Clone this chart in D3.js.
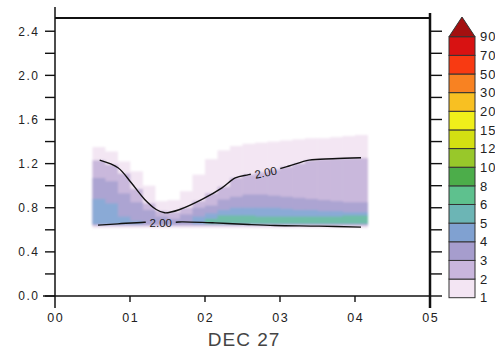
<!DOCTYPE html>
<html><head><meta charset="utf-8">
<script src="https://cdn.jsdelivr.net/npm/d3@7"></script>
<style>body{margin:0;background:#fff}svg{display:block}</style>
</head><body>
<svg id="c" width="495" height="352"></svg>
<script>
// ---------- data ----------
const colStart = [0.5,0.667,0.833,1.0,1.167,1.333,1.5,1.667,1.833,2.0,2.167,2.333,2.5,2.667,2.833,3.0,3.167,3.333,3.5,3.667,3.833,4.0];
const colWidth = 0.1667;
const fieldTop  = [1.35,1.31,1.22,1.13,1.00,0.86,0.87,0.95,1.10,1.24,1.32,1.36,1.38,1.39,1.40,1.41,1.42,1.43,1.43,1.44,1.45,1.46];
const level2Top = [1.23,1.19,1.11,0.97,0.84,0.77,0.76,0.80,0.86,0.93,0.99,1.07,1.10,1.12,1.145,1.17,1.20,1.23,1.24,1.245,1.25,1.25];
const level3Top = [1.07,1.04,0.93,0.85,0.78,0.72,0.70,0.74,0.80,0.82,0.875,0.90,0.92,0.92,0.91,0.90,0.89,0.88,0.87,0.86,0.85,0.85];
const level4Top = [0.88,0.84,0.72,0.68,0,0,0,0,0.72,0.75,0.78,0.80,0.80,0.80,0.80,0.79,0.78,0.78,0.77,0.77,0.76,0.76];
const level5Top = [0,0,0,0,0,0,0,0,0,0.70,0.73,0.73,0.73,0.72,0.72,0.72,0.72,0.72,0.72,0.72,0.73,0.73];
const levelBottom = [0.615,0.635,0.645,0.65,0.655];

const upperT = [0.596,0.84,1.017,1.196,1.35,1.463,1.663,1.96,2.227,2.404,2.583,2.947,3.12,3.387,3.703,4.08];
const upperV = [1.232,1.163,1.026,0.875,0.784,0.754,0.784,0.875,0.98,1.07,1.10,1.147,1.178,1.232,1.244,1.253];
const lowerT = [0.573,0.84,1.196,1.613,1.693,2.133,2.583,2.933,3.52,4.08];
const lowerV = [0.642,0.654,0.669,0.669,0.672,0.663,0.648,0.639,0.633,0.624];
const contourLabelT = [2.81,1.41];
const contourLabelV = [1.12,0.663];
const contourLabelText = ["2.00","2.00"];

const yTicks = [0,0.2,0.4,0.6,0.8,1.0,1.2,1.4,1.6,1.8,2.0,2.2,2.4];
const yLabels = ["0.0","0.4","0.8","1.2","1.6","2.0","2.4"];
const xTicks = [0,1,2,3,4,5];
const xLabels = ["00","01","02","03","04","05"];
const xTitle = "DEC 27";

const cbLabels = ["1","2","3","4","5","6","8","10","12","15","20","30","50","70","90"];
const cbColors = ["#f3e5f3","#c9b6dd","#a69dcd","#80a1d1","#6cb5b5","#5ec18e","#4cad4a","#98c82a","#d4e012","#f0ef1a","#f8c022","#f88222","#f83a12","#d81212"];
const cbOver = "#a31010";
const layerColors = ["#f3e6f3","#c9b8dc","#aca4d2","#8aaad6","#6fbda8"];

// ---------- drawing ----------
const svg = d3.select("#c");
const x = d3.scaleLinear().domain([0,5]).range([55,430]);
const y = d3.scaleLinear().domain([0,2.52]).range([296,18]);
const font = "'Liberation Sans', Arial, sans-serif";

const defs = svg.append("defs");
defs.append("filter").attr("id","soft").attr("x","-5%").attr("y","-5%").attr("width","110%").attr("height","110%")
  .append("feGaussianBlur").attr("stdDeviation",0.8);

// heatmap layers
const tops = [fieldTop, level2Top, level3Top, level4Top, level5Top];
const hm = svg.append("g").attr("filter","url(#soft)");
tops.forEach((arr, li) => {
  hm.append("g").selectAll("rect")
    .data(colStart.map((t,i)=>({t, top: arr[i]})).filter(d=>d.top>0))
    .join("rect")
    .attr("x", d=>x(d.t))
    .attr("width", d=>x(d.t+colWidth)-x(d.t)+0.4)
    .attr("y", d=>y(d.top))
    .attr("height", d=>Math.max(0, y(levelBottom[li])-y(d.top)))
    .attr("fill", layerColors[li]);
});

// contour lines with label gaps
const mask = defs.append("mask").attr("id","lblmask");
mask.append("rect").attr("x",0).attr("y",0).attr("width",495).attr("height",352).attr("fill","#fff");
const line = d3.line().x(d=>x(d[0])).y(d=>y(d[1])).curve(d3.curveCatmullRom.alpha(0.5));
const upper = upperT.map((t,i)=>[t,upperV[i]]);
const lower = lowerT.map((t,i)=>[t,lowerV[i]]);
const angles = [-11, 0];
contourLabelT.forEach((t,i)=>{
  const cx = x(t), cy = y(contourLabelV[i]);
  mask.append("rect").attr("x",-15).attr("y",-6).attr("width",30).attr("height",12)
    .attr("fill","#000").attr("transform",`translate(${cx},${cy}) rotate(${angles[i]})`);
});
const cg = svg.append("g").attr("mask","url(#lblmask)");
[upper, lower].forEach(pts=>{
  cg.append("path").attr("d", line(pts)).attr("fill","none").attr("stroke","#111").attr("stroke-width",1.4);
});
contourLabelT.forEach((t,i)=>{
  svg.append("text").attr("transform",`translate(${x(t)},${y(contourLabelV[i])}) rotate(${angles[i]})`)
    .attr("text-anchor","middle").attr("dy","0.36em")
    .attr("font-family",font).attr("font-size",11.5).attr("fill","#1a1a1a").text(contourLabelText[i]);
});

// frame
const fr = svg.append("g").attr("stroke","#111").attr("fill","none");
fr.append("line").attr("x1",x(0)).attr("x2",x(0)).attr("y1",7).attr("y2",308).attr("stroke-width",1.5);
fr.append("line").attr("x1",x(5)).attr("x2",x(5)).attr("y1",13).attr("y2",308).attr("stroke-width",2.5);
fr.append("line").attr("x1",x(0)).attr("x2",x(5)).attr("y1",y(2.52)).attr("y2",y(2.52)).attr("stroke-width",2);
fr.append("line").attr("x1",43).attr("x2",x(5)).attr("y1",y(0)).attr("y2",y(0)).attr("stroke-width",1.5);

fr.selectAll(".yl").data(yTicks).join("line").attr("class","yl")
  .attr("x1",x(0)-10).attr("x2",x(0)).attr("y1",d=>y(d)).attr("y2",d=>y(d)).attr("stroke-width",1.4);
fr.selectAll(".yr").data(yTicks).join("line").attr("class","yr")
  .attr("x1",x(5)).attr("x2",x(5)+12).attr("y1",d=>y(d)).attr("y2",d=>y(d)).attr("stroke-width",1.4);
fr.selectAll(".xt").data(xTicks.slice(1,5)).join("line").attr("class","xt")
  .attr("x1",d=>x(d)).attr("x2",d=>x(d)).attr("y1",y(0)).attr("y2",y(0)+6).attr("stroke-width",1.4);

svg.append("g").selectAll("text").data(yLabels).join("text")
  .attr("x",39.5).attr("y",d=>y(+d)).attr("dy","0.36em").attr("text-anchor","end")
  .attr("letter-spacing",1.5)
  .attr("font-family",font).attr("font-size",12).attr("fill","#222").text(d=>d);
svg.append("g").selectAll("text").data(xTicks).join("text")
  .attr("x",d=>x(d)+0.8).attr("y",322).attr("text-anchor","middle")
  .attr("letter-spacing",1.5)
  .attr("font-family",font).attr("font-size",12.5).attr("fill","#222").text((d,i)=>xLabels[i]);
svg.append("text").attr("x",244).attr("y",346).attr("text-anchor","middle")
  .attr("letter-spacing",1)
  .attr("font-family",font).attr("font-size",19).attr("fill","#444").text(xTitle);

// colorbar
const cb = d3.scaleLinear().domain([0,14]).range([297.7,36.7]);
const cbX = 449, cbW = 26;
svg.append("g").selectAll("rect").data(cbColors).join("rect")
  .attr("x",cbX).attr("width",cbW).attr("y",(d,i)=>cb(i+1)).attr("height",(d,i)=>cb(i)-cb(i+1))
  .attr("fill",d=>d).attr("stroke","#333").attr("stroke-width",1);
svg.append("path").attr("d",`M${cbX},${cb(14)}L${cbX+cbW/2},17L${cbX+cbW},${cb(14)}Z`)
  .attr("fill",cbOver).attr("stroke","#333").attr("stroke-width",1);
svg.append("g").selectAll("text").data(cbLabels).join("text")
  .attr("x",480).attr("y",(d,i)=>cb(i)).attr("dy","0.36em")
  .attr("letter-spacing",1)
  .attr("font-family",font).attr("font-size",13).attr("fill","#222").text(d=>d);
</script>
</body></html>
